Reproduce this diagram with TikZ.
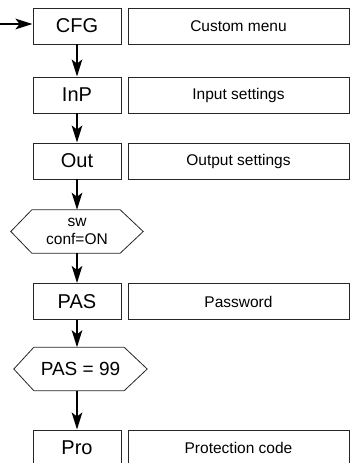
\documentclass[tikz,border=0pt]{standalone}
\usepackage{fontspec}
\setmainfont{Liberation Sans}
\usetikzlibrary{arrows.meta}
\begin{document}
\begin{tikzpicture}[x=1pt,y=-1pt,
  keybox/.style={draw=black!85,line width=0.9pt,minimum width=88pt,minimum height=36pt,inner sep=0pt,font=\fontsize{20}{24}\selectfont},
  descbox/.style={draw=black!85,line width=0.9pt,minimum width=221pt,minimum height=36pt,inner sep=0pt,font=\fontsize{15.5}{19}\selectfont},
  hexnode/.style={minimum width=#1,minimum height=43pt,inner sep=0pt,align=center},
  hexline/.style={draw=black!85,line width=0.8pt},
  flow/.style={line width=2.2pt,-{Stealth[length=17pt,width=10.5pt,inset=4pt]}}]
\useasboundingbox (0,0) rectangle (350,463);
\clip (0,0) rectangle (350,463);
% left column
\node[keybox] (cfg) at (77,26) {CFG};
\node[keybox] (inp) at (77,95) {InP};
\node[keybox] (out) at (77,161) {Out};
\node[hexnode=132pt,font=\fontsize{15.5}{18}\selectfont] (h1) at (77,231.5) {sw\\conf=ON};
\node[keybox] (pas) at (77,301.5) {PAS};
\node[hexnode=133pt,font=\fontsize{19}{22}\selectfont] (h2) at (80.5,369) {PAS = 99};
\node[keybox] (pro) at (77,448) {Pro};
% right column
\node[descbox] (d1) at (238.5,26) {Custom menu};
\node[descbox] (d2) at (238.5,95) {Input settings};
\node[descbox] (d3) at (238.5,161) {Output settings};
\node[descbox] (d4) at (238.5,301.5) {Password};
\node[descbox] (d5) at (238.5,448) {Protection code};
% hexagons
\draw[hexline] (h1.west) -- ([xshift=21pt]h1.north west) -- ([xshift=-23pt]h1.north east) -- (h1.east)
  -- ([xshift=-23pt]h1.south east) -- ([xshift=21pt]h1.south west) -- cycle;
\draw[hexline] (h2.west) -- ([xshift=20pt]h2.north west) -- ([xshift=-23pt]h2.north east) -- (h2.east)
  -- ([xshift=-23pt]h2.south east) -- ([xshift=20pt]h2.south west) -- cycle;
% connectors
\coordinate (entry) at (0,24);
\draw[flow] (entry) -- (entry -| cfg.west);
\draw[flow] (cfg.south) -- (inp.north);
\draw[flow] (inp.south) -- (out.north);
\draw[flow] (out.south) -- (h1.north);
\draw[flow] (h1.south) -- (pas.north);
\draw[flow] (pas.south) -- (pas.south |- h2.north);
\draw[flow] (pas.south |- h2.south) -- (pro.north);
\end{tikzpicture}
\end{document}
